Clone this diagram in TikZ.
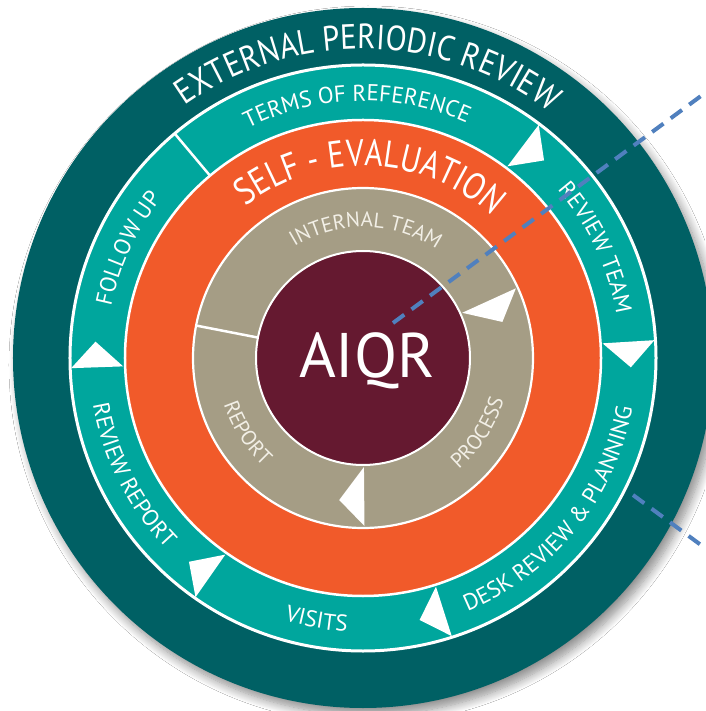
\documentclass[tikz,border=0pt]{standalone}
\usepackage{fontspec}
\newfontfamily\lab{PT Sans}
\newfontfamily\labouter[FakeStretch=0.88]{PT Sans}
\newfontfamily\labself[FakeStretch=0.83]{PT Sans}
\usetikzlibrary{decorations.text,shadows.blur}
\definecolor{extteal}{RGB}{0,96,100}
\definecolor{midteal}{RGB}{0,166,157}
\definecolor{selforange}{RGB}{241,90,42}
\definecolor{khaki}{RGB}{165,157,133}
\definecolor{maroon}{RGB}{101,25,48}
\definecolor{dashblue}{RGB}{80,128,190}
\definecolor{cream}{RGB}{242,239,230}
\newcommand\fouter{\labouter\fontsize{35}{35}\selectfont\color{white}}
\newcommand\fteal{\lab\fontsize{23}{23}\selectfont\color{white}}
\newcommand\fself{\labself\fontsize{37.5}{37.5}\selectfont\color{white}}
\newcommand\fgray{\lab\fontsize{21}{21}\selectfont\color{cream}}
\newcommand\cwlabel[5]{\path[decorate,decoration={text along path,text align=center,text={|#4|#5}}] ({#1+#3}:#2pt) arc[start angle={#1+#3},end angle={#1-#3},radius=#2pt];}
\newcommand\ccwlabel[5]{\path[decorate,decoration={text along path,text align=center,text={|#4|#5}}] ({#1-#3}:#2pt) arc[start angle={#1-#3},end angle={#1+#3},radius=#2pt];}
\tikzset{
  ringdiv/.style={draw=white, line width=2.5pt},
  pointer/.style={fill=white},
  dashline/.style={draw=dashblue, line width=4pt, dash pattern=on 14pt off 9pt},
}
\begin{document}
\begin{tikzpicture}[x=1pt,y=1pt]
\useasboundingbox (-363,-353) rectangle (342,358);
\fill[white] (-363,-353) rectangle (342,358);
% rings
\fill[extteal, blur shadow={shadow xshift=5pt, shadow yshift=-7pt, shadow blur radius=9pt, shadow blur steps=12, shadow opacity=45}] (0,0) circle[radius=350pt];
\filldraw[fill=midteal, draw=white, line width=3pt] (0,0) circle[radius=293pt];
\filldraw[fill=selforange, draw=white, line width=2.5pt] (0,0) circle[radius=238pt];
\filldraw[fill=khaki, draw=white, line width=2.2pt] (0,0) circle[radius=170pt];
\filldraw[fill=maroon, draw=white, line width=2pt] (0,0) circle[radius=107pt];
% plain dividers
\draw[ringdiv] (130:238pt) -- (130:293pt);
\draw[ringdiv] (169:107pt) -- (169:170pt);
% teal ring pointers
\foreach \a in {53,3.5,-72.3,-125,-178}{
  \fill[pointer] (\a:240pt) -- (\a:292pt) -- ({\a-5.5}:268pt) -- cycle;
}
% gray ring pointers
\foreach \a in {24.5,-89.5}{
  \fill[pointer] (\a:109pt) -- (\a:168pt) -- ({\a-10}:144pt) -- cycle;
}
% labels
\cwlabel{89}{309}{85}{\fouter}{EXTERNAL PERIODIC REVIEW}
\cwlabel{91.4}{257}{60}{\fteal}{TERMS OF REFERENCE}
\cwlabel{25.3}{257}{40}{\fteal}{REVIEW TEAM}
\ccwlabel{-39}{274}{60}{\fteal}{DESK REVIEW {\&} PLANNING}
\ccwlabel{-100}{274}{40}{\fteal}{VISITS}
\ccwlabel{207}{274}{40}{\fteal}{REVIEW REPORT}
\cwlabel{155}{257}{30}{\fteal}{FOLLOW UP}
\cwlabel{87.6}{192}{85}{\fself}{SELF - EVALUATION}
\cwlabel{88.7}{131}{70}{\fgray}{INTERNAL TEAM}
\ccwlabel{213}{147}{40}{\fgray}{REPORT}
\ccwlabel{-33}{147}{40}{\fgray}{PROCESS}
% centre
\node[font=\lab\fontsize{63}{63}\selectfont, text=white, anchor=base, inner sep=0pt] (aiqr) at (4,-20) {AIQR};
% dashed leaders
\coordinate (d1a) at (30,35);
\coordinate (d1b) at (342,265);
\coordinate (d2a) at (270,-137);
\coordinate (d2b) at (342,-190);
\draw[dashline] (d1a) -- (d1b);
\draw[dashline] (d2a) -- (d2b);
\end{tikzpicture}
\end{document}
